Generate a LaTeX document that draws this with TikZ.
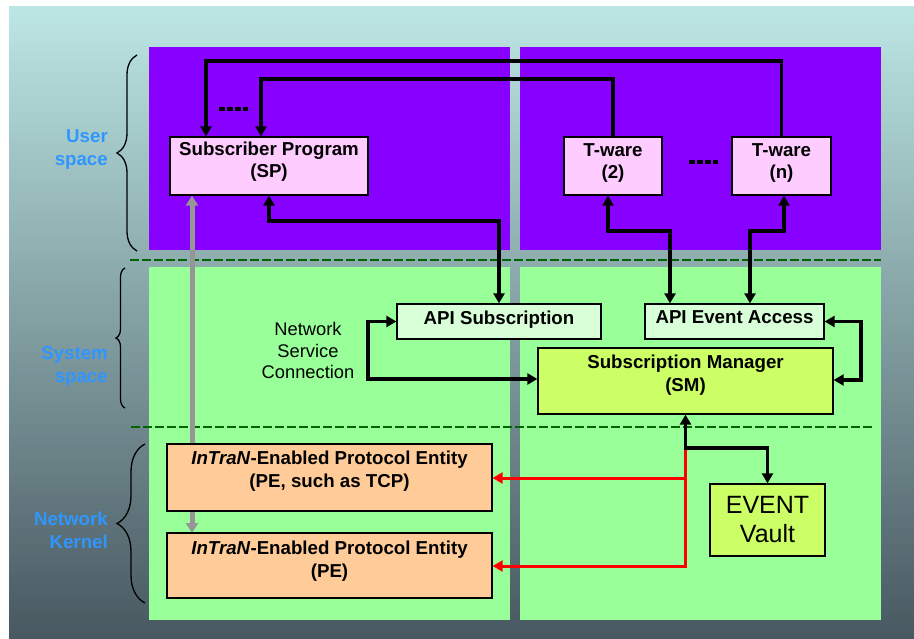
\documentclass[tikz,border=0pt]{standalone}
\usepackage{fontspec}
\setmainfont{Liberation Sans}
\usetikzlibrary{arrows.meta,decorations.pathreplacing}

\definecolor{panelpurple}{RGB}{136,0,255}
\definecolor{panelgreen}{RGB}{153,255,153}
\definecolor{boxpink}{RGB}{255,204,255}
\definecolor{boxmint}{RGB}{216,255,216}
\definecolor{boxlime}{RGB}{204,255,102}
\definecolor{boxpeach}{RGB}{255,204,153}
\definecolor{layerblue}{RGB}{48,150,255}
\definecolor{divgreen}{RGB}{0,100,0}
\definecolor{bgtop}{RGB}{188,230,228}
\definecolor{bgmid}{RGB}{130,166,172}
\definecolor{bgbot}{RGB}{72,88,96}
\definecolor{linkgray}{RGB}{150,150,150}

\newcommand\bxfont{\fontsize{18.7}{22.5}\selectfont\bfseries}
\newcommand\plainfont{\fontsize{18.3}{21.5}\selectfont}
\newcommand\layerfont{\fontsize{18.7}{23}\selectfont\bfseries}

\begin{document}
\begin{tikzpicture}[x=1pt,y=-1pt,
  box/.style={draw=black, line width=1.3pt, inner sep=2pt, align=center, font=\bxfont},
  link/.style={line width=3.3pt, line join=miter, draw=black},
  tip/.style={-{Triangle[length=10pt,width=11pt]}},
  bitip/.style={{Triangle[length=10pt,width=11pt]}-{Triangle[length=10pt,width=11pt]}},
  redlink/.style={line width=3pt, draw=red, -{Triangle[length=10pt,width=11pt]}},
  divider/.style={draw=divgreen, line width=2.6pt, dash pattern=on 9pt off 3pt},
  bracemark/.style={draw=black, line width=1.3pt, decorate},
  layer/.style={text=layerblue, font=\layerfont, align=right, anchor=east, inner sep=0pt},
  dots/.style={draw=black, line width=4pt, dash pattern=on 6pt off 2pt}
]
\useasboundingbox (0,0) rectangle (914,639);
\fill[white] (0,0) rectangle (914,639);
\shade[top color=bgtop, middle color=bgmid, bottom color=bgbot] (9,7) rectangle (914,639);

% layer panels
\fill[panelpurple] (149,47) rectangle (510,250);
\fill[panelpurple] (520,47) rectangle (881,250);
\fill[panelgreen] (149,267) rectangle (510,620);
\fill[panelgreen] (520,267) rectangle (881,620);

% layer dividers
\draw[divider] (130,260) -- (881,260);
\draw[divider] (131,427) -- (874,427);

% layer braces and names
\draw[bracemark, decoration={brace, amplitude=20pt}] (137,251) -- (137,55);
\draw[bracemark, decoration={brace, amplitude=9pt}] (125,408) -- (125,268);
\draw[bracemark, decoration={brace, amplitude=28pt}] (145,603) -- (145,444);
\node[layer] (LU) at (108,150) {User\\space};
\node[layer] (LS) at (108,366) {System\\space};
\node[layer] (LK) at (108,530) {Network\\Kernel};

% coordinate for the vertical gray link
\coordinate (g) at (192,0);

% boxes
\node[box, fill=boxpink, minimum width=198pt, minimum height=58pt, text depth=13pt] (SP) at (269,166) {Subscriber Program\\(SP)};
\node[box, fill=boxpink, minimum width=98pt, minimum height=58pt, text depth=10pt] (T2) at (613,166) {T-ware\\(2)};
\node[box, fill=boxpink, minimum width=99pt, minimum height=58pt, text depth=10pt] (TN) at (781.5,166) {T-ware\\(n)};
\node[box, fill=boxmint, minimum width=204pt, minimum height=35pt, text depth=8pt] (AS) at (499,321.5) {API Subscription};
\node[box, fill=boxmint, minimum width=179pt, minimum height=35pt, text depth=8pt] (AE) at (734.5,321.5) {API Event Access};
\node[box, fill=boxlime, minimum width=295pt, minimum height=66pt, text depth=16pt] (SM) at (685.5,381) {Subscription Manager\\(SM)};
\node[box, fill=boxlime, minimum width=115pt, minimum height=72pt, font=\fontsize{25}{29}\selectfont] (EV) at (767.5,520) {EVENT\\Vault};
\node[align=center, inner sep=0pt, font=\plainfont] (NSC) at (308,350.5) {Network\\Service\\Connection};

% gray link between the subscriber and the kernel, under the protocol boxes
\draw[line width=5pt, draw=linkgray, {Triangle[length=10pt,width=12pt]}-{Triangle[length=10pt,width=12pt]}] (g |- SP.south) -- (192,533);

\node[box, fill=boxpeach, minimum width=325pt, minimum height=67pt, text depth=17pt] (PE1) at (329.5,477.5) {\textit{InTraN}-Enabled Protocol Entity\\(PE, such as TCP)};
\node[box, fill=boxpeach, minimum width=325pt, minimum height=65pt, text depth=13pt] (PE2) at (329.5,565.5) {\textit{InTraN}-Enabled Protocol Entity\\(PE)};

% ellipsis marks
\draw[dots] (219,109) -- (248,109);
\draw[dots] (689,162) -- (718,162);

% bend points
\coordinate (top1) at (206,61);
\coordinate (top2) at (261,79);
\coordinate (m1) at (0,221);
\coordinate (c608) at (608,231);
\coordinate (c670) at (670,231);
\coordinate (c784) at (784,231);
\coordinate (c750) at (750,231);
\coordinate (n1) at (368,379);
\coordinate (n2) at (861,380);
\coordinate (v1) at (0,448);
\coordinate (r1) at (685.5,478);
\coordinate (r2) at (685.5,566);

% T-ware notifications back to the subscriber program
\draw[link, tip] (TN.north) |- (top1) -- (top1 |- SP.north);
\draw[link, tip] (T2.north) |- (top2) -- (top2 |- SP.north);

% user space to API
\draw[link, bitip] (SP.south) -- (SP.south |- m1) -| (AS.north);
\draw[link, bitip] (c608 |- T2.south) -- (c608) -- (c670) -- (c670 |- AE.north);
\draw[link, bitip] (c784 |- TN.south) -- (c784) -- (c750) -- (c750 |- AE.north);

% API to subscription manager
\draw[link, bitip] (AS.west) -| (n1) -- (n1 -| SM.west);
\draw[link, bitip] (AE.east) -| (n2) -- (n2 -| SM.east);

% subscription manager to the event vault
\draw[link, bitip] (SM.south) -- (SM.south |- v1) -| (EV.north);

% subscription manager to the protocol entities
\draw[redlink] (685.5,449.5) -- (r2) -- (r2 -| PE2.east);
\draw[redlink] (r1) -- (r1 -| PE1.east);
\end{tikzpicture}
\end{document}
